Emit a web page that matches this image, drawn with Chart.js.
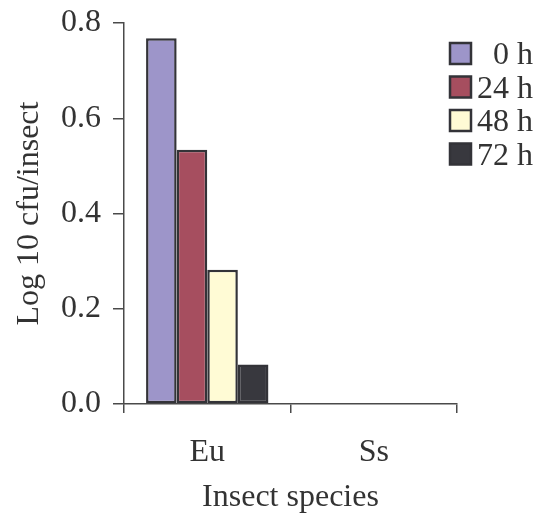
<!DOCTYPE html>
<html>
<head>
<meta charset="utf-8">
<script src="https://cdn.jsdelivr.net/npm/chart.js@4.4.1/dist/chart.umd.min.js"></script>
<style>
  html, body { margin: 0; padding: 0; background: #fff; }
  canvas { display: block; }
</style>
</head>
<body>
<canvas id="c" width="538" height="514"></canvas>
<script>
// ── data ──────────────────────────────────────────────────
const species   = ['Eu', 'Ss'];
const hours     = ['0 h', '24 h', '48 h', '72 h'];
const h0        = [0.768, null];
const h24       = [0.534, null];
const h48       = [0.282, null];
const h72       = [0.083, null];
const yTicks    = [0.0, 0.2, 0.4, 0.6, 0.8];

const FILLS  = ['#9d95c9', '#a64e5f', '#fffbd5', '#38383e'];
const EDGE   = '#333338';
const AXIS   = '#4a4a4a';
const TEXT   = '#333';
const FONT   = "'Liberation Serif', 'Times New Roman', serif";

// legend drawn by hand so it can sit over the right end of the plot
const sideLegend = {
    id: 'sideLegend',
    afterDraw(chart) {
        const ctx = chart.ctx;
        ctx.save();
        ctx.font = `32px ${FONT}`;
        ctx.fillStyle = TEXT;
        ctx.textAlign = 'right';
        ctx.textBaseline = 'alphabetic';
        chart.data.datasets.forEach((ds, i) => {
            const y = 43 + i * 33.5;
            ctx.fillStyle = ds.backgroundColor;
            ctx.fillRect(450, y, 21, 21);
            ctx.strokeStyle = EDGE;
            ctx.lineWidth = 2.5;
            ctx.strokeRect(450, y, 21, 21);
            ctx.fillStyle = TEXT;
            ctx.fillText(ds.label, 533, y + 21);
        });
        ctx.restore();
    }
};

const series = [h0, h24, h48, h72];

new Chart(document.getElementById('c'), {
    type: 'bar',
    data: {
        labels: species,
        datasets: series.map((vals, i) => ({
            label          : hours[i],
            data           : vals,
            backgroundColor: FILLS[i],
            borderColor    : EDGE,
            borderWidth    : 2.5,
            borderSkipped  : false,
            categoryPercentage: 0.735,
            barPercentage  : 1.0
        }))
    },
    options: {
        responsive: false,
        animation : false,
        layout    : { padding: { left: 0, right: 81, top: 23, bottom: 0 } },
        plugins   : {
            legend : { display: false },
            tooltip: { enabled: false }
        },
        scales: {
            x: {
                offset: true,
                grid  : { offset: true, drawOnChartArea: false, tickLength: 9, color: AXIS, lineWidth: 1.5 },
                border: { color: AXIS, width: 1.5 },
                ticks : { font: { family: FONT, size: 32 }, color: TEXT, padding: 20 },
                title : { display: true, text: 'Insect species', font: { family: FONT, size: 32, lineHeight: 1.0 },
                          color: TEXT, padding: { top: 0, bottom: 0 } },
                afterFit: s => { s.height = 110; s.paddingLeft = 0; s.paddingRight = 0; }
            },
            y: {
                min: 0, max: 0.8,
                afterBuildTicks: s => { s.ticks = yTicks.map(v => ({ value: v })); },
                grid  : { drawOnChartArea: false, tickLength: 11, color: AXIS, lineWidth: 1.5 },
                border: { color: AXIS, width: 1.5 },
                ticks : { font: { family: FONT, size: 32 }, color: TEXT, padding: 12,
                          callback: v => Number(v).toFixed(1) },
                title : { display: true, text: 'Log 10 cfu/insect', font: { family: FONT, size: 32 },
                          color: TEXT, padding: { top: 10, bottom: 0 } },
                afterFit: s => { s.width = 124; s.paddingTop = 0; s.paddingBottom = 0; }
            }
        }
    },
    plugins: [sideLegend]
});
</script>
</body>
</html>
